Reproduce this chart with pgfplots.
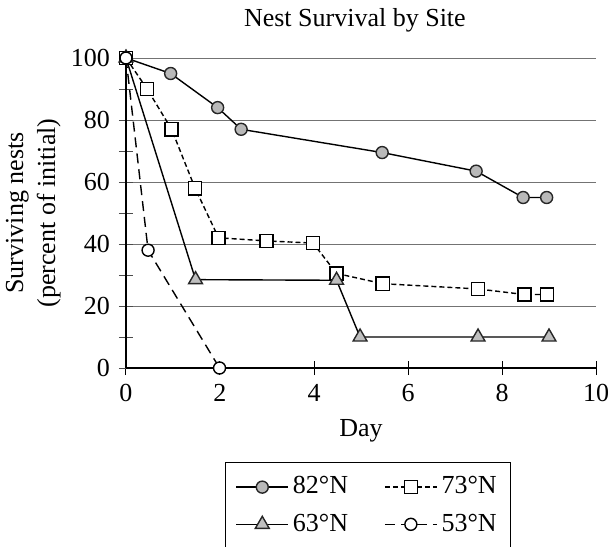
\documentclass[border=0pt]{standalone}
\usepackage{fontspec}
\setmainfont{Liberation Serif}
\usepackage{pgfplots}
\pgfplotsset{compat=1.18}

\begin{document}
\fontsize{13}{15}\selectfont
\begin{tikzpicture}
\begin{axis}[
    scale only axis, width=235pt, height=155pt,
    xmin=0, xmax=10, ymin=0, ymax=100,
    axis x line=bottom, axis y line=left,
    axis line style={-, black, line width=0.6pt},
    clip=false,
    xtick={0,2,...,10}, ytick={0,20,...,100},
    minor y tick num=1,
    tick align=center,
    major tick length=7pt, minor tick length=7pt,
    ytick style={line width=0.5pt, black!70},
    xtick style={line width=0.5pt, black},
    ymajorgrids, major grid style={black!55, line width=0.5pt},
    /pgf/number format/assume math mode=true,
    title={Nest Survival by Site},
    title style={at={(axis description cs:0.487,1)}, anchor=base, yshift=10pt},
    xlabel={Day},
    xlabel style={at={(axis description cs:0.5,0)}, anchor=base, yshift=-34pt},
    ylabel={Surviving nests\\(percent of initial)},
    ylabel style={align=center, font=\fontsize{13}{16}\selectfont, inner sep=0pt,
        at={(axis description cs:-0.138,0.5)}, anchor=south},
    legend columns=2,
    legend cell align=left,
    legend style={draw=black, line width=0.6pt, at={(axis description cs:0.2106,-0.303)},
        anchor=north west, inner xsep=5pt, inner ysep=5pt,
        /tikz/every even column/.append style={column sep=16pt},
        row sep=4pt},
    legend image code/.code={
        \draw[mark repeat=2, mark phase=2, #1] plot coordinates {(0pt,0pt) (13pt,0pt) (26pt,0pt)};
    },
]
\addplot[black, line width=0.7pt, mark=*, mark size=3pt,
    mark options={solid, fill=gray!55, draw=black!85}]
    coordinates {(0,100) (0.95,95) (1.95,84) (2.45,77) (5.45,69.5) (7.45,63.5) (8.45,55) (8.95,55)};
\addlegendentry{82°N}
\addplot[black, line width=0.7pt, dash pattern=on 2.5pt off 1.5pt, mark=square*, mark size=3.3pt,
    mark options={solid, fill=white, draw=black}]
    coordinates {(0,100) (0.45,90) (0.97,77) (1.47,58) (1.97,42) (2.99,41) (3.98,40.3) (4.48,30.5) (5.46,27.2) (7.49,25.5) (8.48,23.7) (8.96,23.7)};
\addlegendentry{73°N}
\addplot[black, line width=0.7pt, mark=triangle*, mark size=4pt,
    mark options={solid, fill=gray!50, draw=black!85}]
    coordinates {(0,100) (1.48,28.5) (4.48,28.3) (4.98,10) (7.49,10) (9,10)};
\addlegendentry{63°N}
\addplot[black, line width=0.7pt, dash pattern=on 5pt off 3pt, mark=*, mark size=3pt,
    mark options={solid, fill=white, draw=black}]
    coordinates {(0,100) (0.47,38) (1.99,0)};
\addlegendentry{53°N}
\end{axis}
\pgfresetboundingbox
\path[use as bounding box] (-63pt,-89pt) rectangle (241.5pt,184pt);
\end{tikzpicture}
\end{document}
